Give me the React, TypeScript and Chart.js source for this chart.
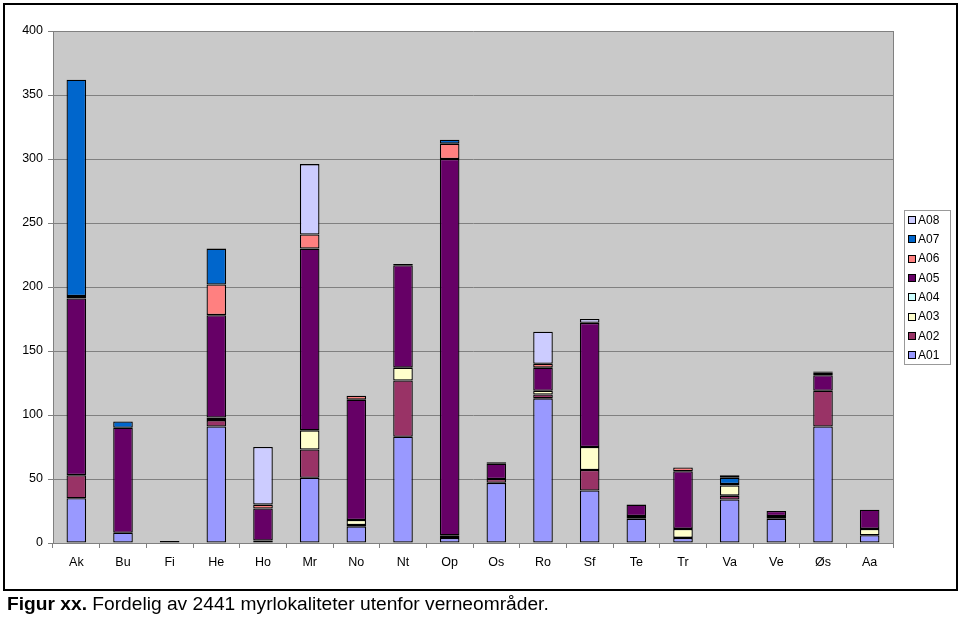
import React, { useEffect, useRef } from "react";
import { Chart, registerables } from "chart.js";

Chart.register(...registerables);

const categories = ["Ak", "Bu", "Fi", "He", "Ho", "Mr", "No", "Nt", "Op", "Os", "Ro", "Sf", "Te", "Tr", "Va", "Ve", "Øs", "Aa"];
const A01 = [35, 8, 0, 91, 2, 51, 13, 83, 4, 47, 113, 41, 19, 4, 34, 19, 91, 6];
const A02 = [18, 0, 0, 5, 0, 22, 1, 44, 2, 3, 3, 16, 2, 0, 3, 2, 28, 0];
const A03 = [0, 0, 0, 0, 0, 15, 4, 10, 0, 0, 3, 18, 0, 7, 8, 0, 0, 5];
const A04 = [0, 0, 0, 2, 0, 0, 0, 0, 0, 0, 0, 0, 0, 0, 0, 0, 0, 0];
const A05 = [138, 82, 1.5, 80, 25, 142, 94, 80, 294, 12, 18, 97, 9, 45, 1, 4, 12, 15];
const A06 = [2, 0, 0, 24, 3, 11, 3, 0, 12, 0, 3, 0, 0, 3, 0, 0, 2, 0];
const A07 = [169, 5, 0, 28, 0, 0, 0, 1, 3, 1, 0, 0, 0, 0, 5, 0, 0, 0];
const A08 = [0, 0, 0, 0, 45, 55, 0, 0, 0, 0, 25, 3, 0, 0, 2, 0, 1, 0];

const seriesNames = ["A01", "A02", "A03", "A04", "A05", "A06", "A07", "A08"];
const seriesData = [A01, A02, A03, A04, A05, A06, A07, A08];
const seriesColors = ["#9999FF", "#993366", "#FFFFCC", "#CCFFFF", "#660066", "#FF8080", "#0066CC", "#CCCCFF"];

const yTicks = { min: 0, max: 400, step: 50 };

const FONT = "Arial, 'Liberation Sans', sans-serif";

const plotBg = {
  id: "plotBg",
  beforeDraw(chart: any) {
    const { ctx, chartArea: a } = chart;
    ctx.save();
    ctx.fillStyle = "#C9C9C9";
    ctx.fillRect(a.left, a.top, a.right - a.left, a.bottom - a.top);
    ctx.restore();
  },
  afterDatasetsDraw(chart: any) {
    const { ctx, chartArea: a } = chart;
    ctx.save();
    ctx.strokeStyle = "#808080";
    ctx.lineWidth = 1;
    ctx.beginPath();
    ctx.moveTo(Math.round(a.right) + 0.5, a.top);
    ctx.lineTo(Math.round(a.right) + 0.5, a.bottom);
    ctx.stroke();
    ctx.restore();
  },
};

const customLegend = {
  id: "customLegend",
  afterDraw(chart: any) {
    const { ctx } = chart;
    const x = 904, y = 210, w = 46, h = 154;
    ctx.save();
    ctx.fillStyle = "#FFFFFF";
    ctx.fillRect(x, y, w, h);
    ctx.strokeStyle = "#999999";
    ctx.lineWidth = 1;
    ctx.strokeRect(x + 0.5, y + 0.5, w, h);
    ctx.font = "12px " + FONT;
    ctx.textBaseline = "middle";
    const n = seriesNames.length;
    for (let i = 0; i < n; i++) {
      const idx = n - 1 - i;
      const cy = 220 + i * 19.3;
      ctx.fillStyle = seriesColors[idx];
      ctx.fillRect(908, Math.round(cy - 4), 8, 8);
      ctx.strokeStyle = "#000000";
      ctx.strokeRect(908.5, Math.round(cy - 4) + 0.5, 7, 7);
      ctx.fillStyle = "#000000";
      ctx.fillText(seriesNames[idx], 918, cy + 0.5);
    }
    ctx.restore();
  },
};

export default function App() {
  const ref = useRef<HTMLCanvasElement | null>(null);

  useEffect(() => {
    if (!ref.current) return;
    const chart = new Chart(ref.current, {
      type: "bar",
      data: {
        labels: categories,
        datasets: seriesNames.map((name, i) => ({
          label: name,
          data: seriesData[i].map((v) => (v ? v : null)),
          backgroundColor: seriesColors[i],
          borderColor: "#000000",
          borderWidth: 1.3,
          borderSkipped: false,
          categoryPercentage: 1,
          barPercentage: 0.42,
        })),
      },
      options: {
        animation: false,
        responsive: false,
        maintainAspectRatio: false,
        events: [],
        layout: { padding: { left: 0, top: 31, right: 67, bottom: 0 } },
        plugins: {
          legend: { display: false },
          tooltip: { enabled: false },
          title: { display: false },
        },
        scales: {
          x: {
            stacked: true,
            grid: { offset: true, drawOnChartArea: false, tickLength: 5, color: "#808080" },
            border: { color: "#808080" },
            ticks: { color: "#000000", font: { family: FONT, size: 12.5 }, padding: 7 },
            afterFit: (s: any) => { s.height = 74; },
          },
          y: {
            stacked: true,
            min: yTicks.min,
            max: yTicks.max,
            ticks: { stepSize: yTicks.step, color: "#000000", font: { family: FONT, size: 12.5 }, padding: 5 },
            grid: { color: "#808080", tickLength: 5 },
            border: { color: "#808080" },
            afterFit: (s: any) => { s.width = 53; },
          },
        },
      },
      plugins: [plotBg, customLegend],
    });
    return () => chart.destroy();
  }, []);

  return (
    <div style={{ position: "absolute", left: 0, top: 0, width: 960, height: 617, background: "#fff" }}>
      <div
        style={{
          position: "absolute",
          left: 3,
          top: 3,
          width: 955,
          height: 588,
          border: "2px solid #000",
          boxSizing: "border-box",
        }}
      />
      <canvas
        ref={ref}
        width={960}
        height={617}
        style={{ position: "absolute", left: 0, top: 0, width: 960, height: 617 }}
      />
      <div
        style={{
          position: "absolute",
          left: 7,
          top: 592,
          fontFamily: FONT,
          fontSize: 19.2,
          lineHeight: "24px",
          color: "#000",
          whiteSpace: "nowrap",
        }}
      >
        <b>Figur xx.</b> Fordelig av 2441 myrlokaliteter utenfor verneområder.
      </div>
    </div>
  );
}
